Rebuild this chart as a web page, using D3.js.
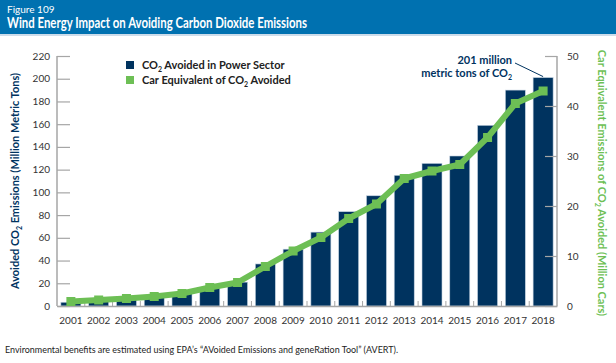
<!DOCTYPE html>
<html lang="en">
<head>
<meta charset="UTF-8">
<title>Wind Energy Impact on Avoiding Carbon Dioxide Emissions</title>
<style>
  body { margin: 0; background: #fff; }
  svg { display: block; font-family: Lato, "Open Sans", sans-serif; }
</style>
</head>
<body>
<svg id="chart" width="616" height="363"></svg>
<script src="https://d3js.org/d3.v7.min.js"></script>
<script>
  // data
  const years = ["2001","2002","2003","2004","2005","2006","2007","2008","2009",
                 "2010","2011","2012","2013","2014","2015","2016","2017","2018"];
  const co2Avoided = [3.3, 4.7, 5.9, 8.2, 12, 16, 21, 37, 50, 65, 83, 97, 115, 125.5, 132, 159, 190, 201];
  const carEquivalent = [0.9, 1.2, 1.5, 1.9, 2.5, 3.7, 4.7, 7.9, 11, 13.7, 17.5, 20.4, 25.5, 27, 28.3, 33.7, 40.5, 43];
  const leftTicks = d3.range(0, 221, 20);
  const rightTicks = [0, 10, 20, 30, 40, 50];

  const navy = "#00335f", green = "#6dbf55", grey = "#a6a6a6";
  const svg = d3.select("#chart");

  // header band
  svg.append("rect").attr("x", 0).attr("y", 0).attr("width", 616).attr("height", 34).attr("fill", "#0071b0");
  svg.append("rect").attr("x", 0).attr("y", 34).attr("width", 616).attr("height", 2).attr("fill", "#cddcea");
  svg.append("text").attr("x", 7).attr("y", 13).attr("fill", "#fff")
    .style("font-size", "10px").text("Figure 109");
  svg.append("text").attr("x", 7).attr("y", 28).attr("fill", "#fff")
    .style("font-size", "14.5px").style("font-weight", "bold")
    .attr("textLength", 300).attr("lengthAdjust", "spacingAndGlyphs")
    .text("Wind Energy Impact on Avoiding Carbon Dioxide Emissions");

  const plotL = 57, plotR = 557, plotT = 56, plotB = 306;

  const x = d3.scaleBand().domain(years).range([plotL, plotR]).paddingInner(0.28).paddingOuter(0.14);
  const y = d3.scaleLinear().domain([0, 220]).range([plotB, plotT]);
  const y2 = d3.scaleLinear().domain([0, 50]).range([plotB, plotT]);

  // bars
  svg.append("g").selectAll("rect")
    .data(years)
    .join("rect")
      .attr("x", d => x(d))
      .attr("width", x.bandwidth())
      .attr("y", (d, i) => y(co2Avoided[i]))
      .attr("height", (d, i) => plotB - y(co2Avoided[i]))
      .attr("fill", navy)
      .attr("stroke", "#c4d2e0")
      .attr("stroke-width", 0.6);

  // left axis
  const gl = svg.append("g").attr("transform", `translate(${plotL},0)`)
    .call(d3.axisRight(y).tickValues(leftTicks).tickSize(13).tickFormat(""));
  gl.select(".domain").attr("stroke", grey).attr("stroke-width", 1.5).attr("d", `M0,${plotB}V${plotT}`);
  gl.selectAll(".tick line").attr("stroke", grey).attr("stroke-width", 1.2);
  svg.append("g").selectAll("text").data(leftTicks).join("text")
    .attr("x", 50).attr("y", d => y(d)).attr("dy", "0.35em")
    .attr("text-anchor", "end").attr("fill", "#333").style("font-size", "10px")
    .text(d => d);

  // right axis
  const gr = svg.append("g").attr("transform", `translate(${plotR},0)`)
    .call(d3.axisLeft(y2).tickValues(rightTicks).tickSize(12).tickFormat(""));
  gr.select(".domain").attr("stroke", grey).attr("stroke-width", 1.5).attr("d", `M0,${plotB}V${plotT}`);
  gr.selectAll(".tick line").attr("stroke", grey).attr("stroke-width", 1.2);
  svg.append("g").selectAll("text").data(rightTicks).join("text")
    .attr("x", 567).attr("y", d => y2(d)).attr("dy", "0.35em")
    .attr("text-anchor", "start").attr("fill", "#333").style("font-size", "10px")
    .text(d => d);

  // bottom axis
  const gb = svg.append("g").attr("transform", `translate(0,${plotB})`)
    .call(d3.axisBottom(x).tickSize(0).tickPadding(11));
  gb.select(".domain").attr("stroke", grey).attr("stroke-width", 1.5);
  gb.selectAll("text").attr("fill", "#333").style("font-size", "10px").style("font-family", "Lato, sans-serif");
  // small separators between bands
  svg.append("g").selectAll("line").data(years.slice(1)).join("line")
    .attr("x1", d => x(d) - x.step() * 0.14).attr("x2", d => x(d) - x.step() * 0.14)
    .attr("y1", plotB).attr("y2", plotB - 5)
    .attr("stroke", grey).attr("stroke-width", 1);

  // green line
  const cx = d => x(d) + x.bandwidth() / 2;
  const line = d3.line().x((d, i) => cx(years[i])).y(d => y2(d));
  svg.append("path").datum(carEquivalent)
    .attr("d", line).attr("fill", "none").attr("stroke", green)
    .attr("stroke-width", 6).attr("stroke-linejoin", "round");
  svg.append("g").selectAll("rect").data(carEquivalent).join("rect")
    .attr("x", (d, i) => cx(years[i]) - 4.5).attr("y", d => y2(d) - 4.5)
    .attr("width", 9).attr("height", 9).attr("fill", green);

  // axis titles
  const lt = svg.append("text").attr("transform", `translate(19,${(plotT + plotB) / 2}) rotate(-90)`)
    .attr("text-anchor", "middle").attr("fill", navy)
    .style("font-size", "11px").style("font-weight", "bold");
  lt.append("tspan").text("Avoided CO");
  lt.append("tspan").text("2").style("font-size", "7px").attr("dy", 3);
  lt.append("tspan").text(" Emissions (Million Metric Tons)").attr("dy", -3);

  const rt = svg.append("text").attr("transform", `translate(598,${(plotT + plotB) / 2 + 2}) rotate(90)`)
    .attr("text-anchor", "middle").attr("fill", green)
    .style("font-size", "11px").style("font-weight", "bold");
  rt.append("tspan").text("Car Equivalent Emissions of CO");
  rt.append("tspan").text("2").style("font-size", "7px").attr("dy", 3);
  rt.append("tspan").text(" Avoided (Million Cars)").attr("dy", -3);

  // legend
  const legend = [
    { color: navy, parts: ["CO", "2", " Avoided in Power Sector"] },
    { color: green, parts: ["Car Equivalent of CO", "2", " Avoided"] }
  ];
  const lg = svg.append("g").selectAll("g").data(legend).join("g")
    .attr("transform", (d, i) => `translate(126,${61 + i * 15})`);
  lg.append("rect").attr("width", 8).attr("height", 8).attr("fill", d => d.color);
  const ltx = lg.append("text").attr("x", 16).attr("y", 8).attr("fill", "#222")
    .style("font-size", "11px").style("font-weight", "bold");
  ltx.append("tspan").text(d => d.parts[0]);
  ltx.append("tspan").text(d => d.parts[1]).style("font-size", "7px").attr("dy", 3);
  ltx.append("tspan").text(d => d.parts[2]).attr("dy", -3);

  // annotation
  const last = years[years.length - 1];
  svg.append("text").attr("x", 512).attr("y", 64).attr("text-anchor", "end")
    .attr("fill", navy).style("font-size", "11px").style("font-weight", "bold")
    .text(co2Avoided[co2Avoided.length - 1] + " million");
  const an = svg.append("text").attr("x", 512).attr("y", 77).attr("text-anchor", "end")
    .attr("fill", navy).style("font-size", "11px").style("font-weight", "bold");
  an.append("tspan").text("metric tons of CO");
  an.append("tspan").text("2").style("font-size", "7px").attr("dy", 3);
  svg.append("line").attr("x1", 515).attr("y1", 63)
    .attr("x2", cx(last)).attr("y2", y(co2Avoided[co2Avoided.length - 1]) - 1)
    .attr("stroke", navy).attr("stroke-width", 1);

  // footnote
  svg.append("text").attr("x", 5).attr("y", 353).attr("fill", "#222")
    .style("font-size", "9.5px").attr("textLength", 393).attr("lengthAdjust", "spacingAndGlyphs")
    .text("Environmental benefits are estimated using EPA\u2019s \u201cAVoided Emissions and geneRation Tool\u201d (AVERT).");
</script>
</body>
</html>
